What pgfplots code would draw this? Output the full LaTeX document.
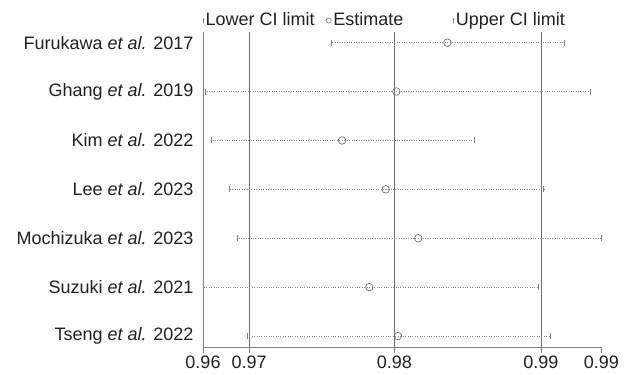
\documentclass[border=0pt]{standalone}
\usepackage{pgfplots}
\pgfplotsset{compat=1.18}
\usepackage{pgfplotstable}
\usepackage{fontspec}
\setmainfont{Liberation Sans}
\definecolor{axgray}{HTML}{808080}
\definecolor{refgray}{HTML}{707070}
\definecolor{cigray}{HTML}{8A8A8A}
\definecolor{mkgray}{HTML}{606060}
\definecolor{txt}{HTML}{231F20}
\pgfplotstableread{
y lo est hi
7 0.97258 0.98029 0.98809
6 0.96418 0.97689 0.98980
5 0.96453 0.97327 0.98209
4 0.96575 0.97618 0.98671
3 0.96629 0.97835 0.99055
2 0.96400 0.97509 0.98633
1 0.96695 0.97700 0.98713
}\data
\begin{document}
\begin{tikzpicture}[font=\fontsize{18bp}{21bp}\selectfont, text=txt]
\path[use as bounding box] (-203bp,-28bp) rectangle (425bp,347bp);
\begin{axis}[
  scale only axis,
  width=398.3bp, height=315bp,
  xmin=0.964, xmax=0.99055,
  ymin=0.776, ymax=7.218,
  axis x line*=bottom, axis y line*=left,
  axis line style={axgray, line width=0.6pt},
  xtick={0.964,0.96707,0.97675,0.98653,0.99055},
  xticklabels={0.96,0.97,0.98,0.99,0.99},
  /pgf/number format/assume math mode=true,
  x tick style={axgray, line width=0.6pt},
  xticklabel style={yshift=-1.5bp, inner sep=1bp},
  tick align=outside, major tick length=6bp,
  ytick={1,2,3,4,5,6,7},
  yticklabels={Tseng \textit{et al.} 2022, Suzuki \textit{et al.} 2021, Mochizuka \textit{et al.} 2023, Lee \textit{et al.} 2023, Kim \textit{et al.} 2022, Ghang \textit{et al.} 2019, Furukawa \textit{et al.} 2017},
  y tick style={draw=none},
  clip=false,
  legend columns=3,
  legend style={at={(rel axis cs:0,1)}, anchor=south west, draw=none, fill=none, inner sep=0pt, yshift=3bp, column sep=0pt},
  legend cell align=left,
]
\addlegendimage{legend image code/.code={\draw[axgray, line width=0.5pt] (0.3em,-0.35em) -- (0.3em,0.2em);}}
\addlegendentry{\makebox[118bp][l]{Lower CI limit}}
\addlegendimage{legend image code/.code={\draw[mkgray, line width=0.5pt] (0.3em,-0.1em) circle (2.6bp);}}
\addlegendentry{\makebox[118bp][l]{Estimate}}
\addlegendimage{legend image code/.code={\draw[axgray, line width=0.5pt] (0.3em,-0.35em) -- (0.3em,0.2em);}}
\addlegendentry{Upper CI limit}
% reference lines
\addplot[forget plot, refgray, line width=0.7pt] coordinates {(0.96707,0.776) (0.96707,7.218)};
\addplot[forget plot, refgray, line width=0.7pt] coordinates {(0.97675,0.776) (0.97675,7.218)};
\addplot[forget plot, refgray, line width=0.7pt] coordinates {(0.98653,0.776) (0.98653,7.218)};
% CI dotted lines
\addplot[forget plot, draw=none, mark=none, error bars/.cd, x dir=both, x explicit, error mark=none, error bar style={cigray, dotted, line width=0.6pt}]
  table[x=est, y=y, x error plus expr=\thisrow{hi}-\thisrow{est}, x error minus expr=\thisrow{est}-\thisrow{lo}] {\data};
\addplot[forget plot, only marks, mark=|, mark size=3bp, mark options={axgray, line width=0.6pt}] table[x=lo, y=y] {\data};
\addplot[forget plot, only marks, mark=|, mark size=3bp, mark options={axgray, line width=0.6pt}] table[x=hi, y=y] {\data};
\addplot[forget plot, only marks, mark=o, mark size=3.8bp, mark options={mkgray, line width=0.6pt}] table[x=est, y=y] {\data};
\end{axis}
\end{tikzpicture}
\end{document}
